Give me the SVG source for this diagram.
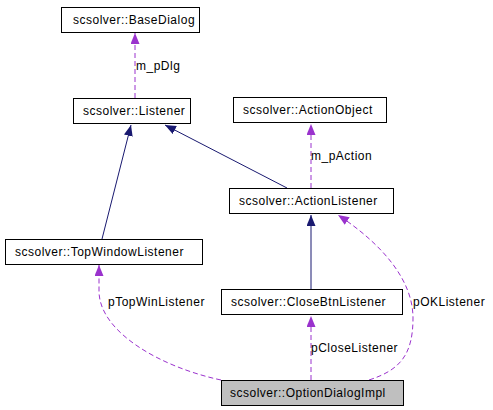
<svg xmlns="http://www.w3.org/2000/svg" width="493" height="410" viewBox="0 0 493 410">
<style>
.box{fill:#fff;stroke:#000;stroke-width:1}
.hl{fill:#bfbfbf}
.t{font-family:"Liberation Sans",Arial,sans-serif;font-size:12px;letter-spacing:0.5px;fill:#000}
.inh{fill:none;stroke:#191970;stroke-width:1}
.use{fill:none;stroke:#9a32cd;stroke-width:1;stroke-dasharray:5,3}
</style>
<defs>
<marker id="ai" markerUnits="userSpaceOnUse" markerWidth="12" markerHeight="10" refX="11" refY="4.5" orient="auto">
<path d="M0,0 L11,4.5 L0,9 z" fill="#191970"/>
</marker>
<marker id="au" markerUnits="userSpaceOnUse" markerWidth="12" markerHeight="10" refX="11" refY="4.5" orient="auto">
<path d="M0,0 L11,4.5 L0,9 z" fill="#9a32cd"/>
</marker>
</defs>
<rect width="493" height="410" fill="#fff"/>
<g id="connectors">
<path class="use" d="M135,98 L135,33" marker-end="url(#au)"/>
<text class="t" x="136" y="70">m_pDlg</text>
<path class="use" d="M311,188 L311,124" marker-end="url(#au)"/>
<text class="t" x="311" y="160">m_pAction</text>
<path class="inh" d="M102,239 L131,125" marker-end="url(#ai)"/>
<path class="inh" d="M287,188 L165,125" marker-end="url(#ai)"/>
<path class="inh" d="M311,289 L311,215" marker-end="url(#ai)"/>
<path class="use" d="M221,380 C160,367 100,332 99,292 L99,265" marker-end="url(#au)"/>
<text class="t" x="108" y="306">pTopWinListener</text>
<path class="use" d="M311,380 L311,316" marker-end="url(#au)"/>
<text class="t" x="311" y="352">pCloseListener</text>
<path class="use" d="M369,380 C400,370 413,355 413,318 C413,280 382,244 338,215" marker-end="url(#au)"/>
<text class="t" x="413" y="306">pOKListener</text>
</g>
<g id="BaseDialog">
<rect class="box" x="61.5" y="7.5" width="138" height="25"/>
<text class="t" x="73" y="24">scsolver::BaseDialog</text>
</g>
<g id="Listener">
<rect class="box" x="73.5" y="98.5" width="117" height="25"/>
<text class="t" x="83" y="115">scsolver::Listener</text>
</g>
<g id="ActionObject">
<rect class="box" x="233.5" y="97.5" width="153" height="25"/>
<text class="t" x="243" y="114">scsolver::ActionObject</text>
</g>
<g id="ActionListener">
<rect class="box" x="229.5" y="188.5" width="164" height="25"/>
<text class="t" x="239" y="205">scsolver::ActionListener</text>
</g>
<g id="TopWindowListener">
<rect class="box" x="5.5" y="239.5" width="197" height="25"/>
<text class="t" x="15" y="256">scsolver::TopWindowListener</text>
</g>
<g id="CloseBtnListener">
<rect class="box" x="221.5" y="289.5" width="181" height="25"/>
<text class="t" x="231" y="306">scsolver::CloseBtnListener</text>
</g>
<g id="OptionDialogImpl">
<rect class="box hl" x="221.5" y="380.5" width="182" height="25"/>
<text class="t" x="230" y="397">scsolver::OptionDialogImpl</text>
</g>
</svg>
